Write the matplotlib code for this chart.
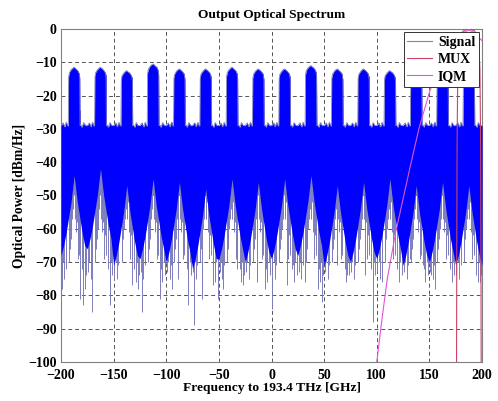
import numpy as np
import matplotlib.pyplot as plt

# channel grid (GHz relative to 193.4 THz)
chan_center = [-187.5, -162.5, -137.5, -112.5, -87.5, -62.5, -37.5, -12.5,
               12.5, 37.5, 62.5, 87.5, 112.5, 137.5, 162.5, 187.5]
chan_peak = [-11.5, -11.5, -12.5, -10.5, -12.0, -12.0, -11.5, -12.0,
             -12.0, -11.0, -12.0, -12.0, -12.5, -13.0, -13.0, -13.0]
chan_low = [-44, -42, -47, -45, -46, -48, -45, -46,
            -45, -44, -47, -46, -45, -47, -46, -47]

# shape of one 25 GHz slot (offset from channel centre)
floor_off = [-12.5, -10.5, -9.0, -7.5, -6.2, -5.6]
floor_lvl = [-29.0, -28.2, -29.4, -28.0, -29.1, -29.0]
floor_off_r = [5.6, 6.2, 7.5, 9.0, 10.5]
floor_lvl_r = [-29.0, -28.8, -29.5, -28.1, -29.0]
top_off = [-5.3, -4.6, -3.5, -2.0, -0.8, 0.0, 0.9, 2.2, 3.6, 4.7, 5.3]
top_rel = [-3.0, -1.6, -1.0, -0.4, -0.1, 0.0, -0.3, -0.6, -1.1, -1.8, -3.2]
low_off = [-12.5, -10.0, -7.5, -5.0, -3.0, -1.5, 0.0, 1.5, 3.0, 5.0, 7.5, 10.0]
low_rel = [-24, -21, -17, -12, -8, -4, 0, -4, -8, -12, -17, -21]

# deep strokes of the spectrum (GHz, dBm/Hz)
spike_f = [-199.3, -195.0, -182.0, -179.4, -177.0, -170.8, -153.4, -150.0, -132.8,
           -126.5, -123.4, -106.0, -101.5, -95.0, -89.0, -79.0, -73.4, -66.3,
           -55.5, -50.5, -46.0, -32.8, -27.0, -14.0, -6.2, 0.2, 14.4, 20.7,
           31.8, 44.5, 47.6, 61.8, 71.3, 88.7, 96.7, 104.6, 131.5, 144.0,
           152.0, 155.0, 169.3, 175.6, 194.6, 197.8]
spike_db = [-78, -72, -81, -83, -78, -85, -83, -75, -77,
            -78, -85, -81, -72, -78, -75, -83, -89, -81,
            -77, -81, -78, -72, -77, -76, -78, -84, -77, -71,
            -76, -78, -82, -71, -74, -74, -88, -76, -69, -71,
            -74, -78, -71, -74, -74, -76]
# strokes reaching into the notch under each channel and in the gaps
notch_off = [-5.0, -4.2, -3.4, -2.8, -1.9, -1.2, -0.5, 0.4, 1.1, 1.8, 2.6, 3.3, 4.0, 4.8]
notch_db = [-70, -66, -63, -60, -57, -54, -50, -57, -52, -61, -58, -69, -62, -68]
gap_off = [-11.8, -10.6, -9.2, -7.9, 7.2, 8.6, 9.9, 11.3]
gap_db = [-73, -70, -75, -71, -72, -76, -70, -74]

# filter responses
iqm_f = [100, 105, 110, 118, 125, 132, 140, 150, 160, 170, 178, 184, 187.5, 191, 196, 200]
iqm_db = [-100, -87, -75, -61, -51, -41, -30, -19, -11, -5.5, -2.5, -0.8, -0.3, -0.8, -2.2, -3.5]
mux_f = [175.8, 176.0, 176.3, 177.0, 178.5, 182, 187.5, 193, 196.5, 198.0, 198.7, 199.0, 199.2]
mux_db = [-100, -70, -35, -12, -3, -0.6, 0.2, -0.6, -3, -12, -35, -70, -100]

sig_col = '#0000ff'
stroke_col = '#7c7cbc'

# build the envelopes from the slot shape
ux, uy, lx, ly = [], [], [], []
for c, p, lo in zip(chan_center, chan_peak, chan_low):
    ux += [c + o for o in floor_off] + [c + o for o in top_off] + [c + o for o in floor_off_r]
    uy += floor_lvl + [p + r for r in top_rel] + floor_lvl_r
    lx += [c + o for o in low_off]
    ly += [lo + r for r in low_rel]
ux.append(200); uy.append(-29.0)
lx.append(200); ly.append(chan_low[-1] + low_rel[0])

xs = np.linspace(-200, 200, 4001)
upper = np.interp(xs, ux, uy)
lower = np.interp(xs, lx, ly)

plt.rcParams['font.family'] = ['Liberation Serif', 'DejaVu Serif']
plt.rcParams['font.weight'] = 'bold'

fig = plt.figure(figsize=(4.98, 4.01), dpi=100)
ax = fig.add_axes([0.1225, 0.0973, 0.8454, 0.8304])

# strokes first, blue body on top
sf = list(spike_f)
sd = list(spike_db)
for c in chan_center:
    sf += [c + o for o in notch_off] + [c + o for o in gap_off]
    sd += notch_db + gap_db
ax.vlines(sf, sd, np.interp(sf, ux, uy), color=stroke_col, lw=0.7, zorder=2)
ax.fill_between(xs, lower, upper, color=sig_col, lw=0, zorder=3)
ax.plot(xs, upper, color=stroke_col, lw=0.6, zorder=3)
ax.plot([], [], color='#8080d0', lw=0.8, label='Signal')

ax.plot(mux_f, mux_db, color='#cc4466', lw=0.8, label='MUX', zorder=4)
ax.plot(iqm_f, iqm_db, color='#dd55dd', lw=0.8, label='IQM', zorder=4)

ax.set_xlim(-200, 200)
ax.set_ylim(-100, 0)
ax.set_xticks(range(-200, 201, 50))
ax.set_yticks(range(-100, 1, 10))
ax.tick_params(length=0, labelsize=10)
ax.tick_params(axis='x', pad=5)
ax.tick_params(axis='y', pad=3)
ax.grid(True, color='#555555', ls=(0, (4, 3)), lw=0.7)
ax.set_axisbelow(True)
for s in ax.spines.values():
    s.set_color('#808080')
    s.set_linewidth(0.8)

ax.set_title('Output Optical Spectrum', fontsize=9.6, fontweight='bold', pad=8)
ax.set_xlabel('Frequency to 193.4 THz [GHz]', fontsize=9.7, fontweight='bold', labelpad=0)
ax.set_ylabel('Optical Power [dBm/Hz]', fontsize=9.8, fontweight='bold', labelpad=2)

leg = ax.legend(loc='upper right', bbox_to_anchor=(0.992, 0.99), fontsize=10,
                fancybox=False, framealpha=1, edgecolor='#333333', borderaxespad=0.0,
                handlelength=1.8, borderpad=0.25, labelspacing=0.3, handletextpad=0.4)
leg.get_frame().set_linewidth(0.7)
leg.set_zorder(6)

fig.savefig('out.png', dpi=100)
